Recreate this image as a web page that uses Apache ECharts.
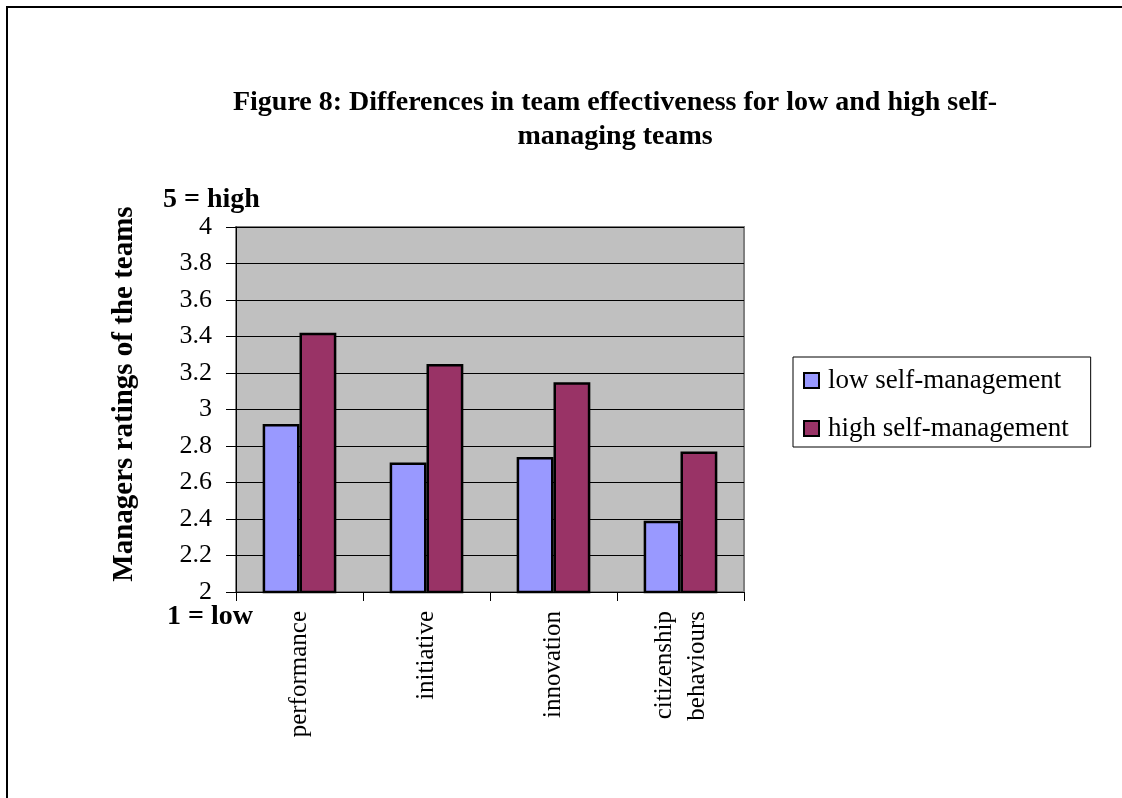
<!DOCTYPE html>
<html>
<head>
<meta charset="utf-8">
<style>
  html, body { margin: 0; padding: 0; background: #fff; }
  #chart { width: 1122px; height: 798px; }
</style>
<script src="https://cdn.jsdelivr.net/npm/echarts@6/dist/echarts.min.js"></script>
</head>
<body>
<div id="chart"></div>
<script>
// categories and values
const categories = ['performance', 'initiative', 'innovation', 'citizenship\nbehaviours']
const lowSelfManagement = [2.92, 2.71, 2.74, 2.39]
const highSelfManagement = [3.42, 3.25, 3.15, 2.77]
const seriesNames = ['low self-management', 'high self-management']
const yMin = 2
const yMax = 4
const yStep = 0.2

const serif = '"Liberation Serif", "Times New Roman", serif'

const chart = echarts.init(document.getElementById('chart'))
const option = {
  backgroundColor: '#fff',
  animation: false,
  title: {
    text: 'Figure 8: Differences in team effectiveness for low and high self-\nmanaging teams',
    left: 610,
    top: 81,
    textAlign: 'center',
    textStyle: {
      fontFamily: serif,
      fontWeight: 'bold',
      fontSize: 28,
      lineHeight: 34,
      color: '#000'
    }
  },
  legend: {
    orient: 'vertical',
    left: 793,
    top: 357,
    padding: [10, 22, 5, 10],
    itemGap: 21,
    itemWidth: 15,
    itemHeight: 15,
    icon: 'rect',
    borderColor: '#000',
    borderWidth: 1,
    itemStyle: { borderColor: '#000', borderWidth: 2 },
    textStyle: { fontFamily: serif, fontSize: 27, color: '#000', padding: [0, 0, 0, 4] },
    data: seriesNames
  },
  grid: {
    left: 236,
    right: 378,
    top: 227,
    bottom: 206,
    show: true,
    backgroundColor: '#C0C0C0',
    borderColor: '#808080',
    borderWidth: 2
  },
  xAxis: {
    type: 'category',
    data: categories,
    axisLine: { lineStyle: { color: '#000', width: 1 } },
    axisTick: { show: true, length: 9, lineStyle: { color: '#000' } },
    axisLabel: {
      rotate: 90,
      margin: 19,
      interval: 0,
      fontFamily: serif,
      fontSize: 25,
      lineHeight: 33,
      color: '#000'
    }
  },
  yAxis: {
    type: 'value',
    min: yMin,
    max: yMax,
    interval: yStep,
    axisLine: { show: true, lineStyle: { color: '#000', width: 1 } },
    axisTick: { show: true, length: 10, lineStyle: { color: '#000' } },
    axisLabel: {
      margin: 24,
      fontFamily: serif,
      fontSize: 26,
      color: '#000'
    },
    splitLine: { show: true, lineStyle: { color: '#000', width: 1 } }
  },
  series: [
    {
      name: seriesNames[0],
      type: 'bar',
      barGap: '0%',
      barCategoryGap: '42%',
      itemStyle: { color: '#9999FF', borderColor: '#000', borderWidth: 2.5 },
      data: lowSelfManagement
    },
    {
      name: seriesNames[1],
      type: 'bar',
      barGap: '0%',
      barCategoryGap: '42%',
      itemStyle: { color: '#993366', borderColor: '#000', borderWidth: 2.5 },
      data: highSelfManagement
    }
  ],
  graphic: [
    {
      type: 'rect',
      shape: { x: 7, y: 7, width: 1200, height: 900 },
      style: { fill: null, stroke: '#000', lineWidth: 2 },
      silent: true
    },
    {
      // y axis title
      type: 'text',
      x: 125,
      y: 394,
      rotation: Math.PI / 2,
      style: {
        text: 'Managers ratings of the teams',
        font: 'bold 29px ' + serif,
        fill: '#000',
        align: 'center',
        verticalAlign: 'middle'
      }
    },
    {
      type: 'text',
      left: 163,
      top: 186,
      style: { text: '5 = high', font: 'bold 28px ' + serif, fill: '#000' }
    },
    {
      type: 'text',
      left: 167,
      top: 603,
      style: { text: '1 = low', font: 'bold 28px ' + serif, fill: '#000' }
    }
  ]
}
chart.setOption(option)
</script>
</body>
</html>
